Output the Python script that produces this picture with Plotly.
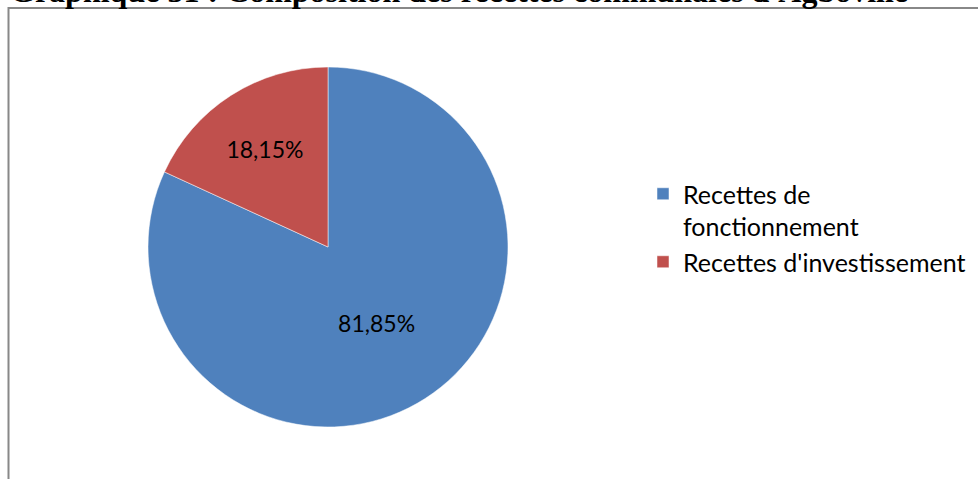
import plotly.graph_objects as go

categories = ["Recettes de fonctionnement", "Recettes d'investissement"]
legend_labels = ["Recettes de<br>fonctionnement", "Recettes d'investissement"]
values = [81.85, 18.15]
colors = ["#4F81BD", "#C0504D"]
title = "Graphique 31 : Composition des recettes communales d'Agboville"

W, H = 978, 479

fig = go.Figure(go.Pie(
    labels=legend_labels,
    values=values,
    sort=False,
    direction="clockwise",
    rotation=0,
    marker=dict(colors=colors, line=dict(color="white", width=0.5)),
    texttemplate="%{percent:.2%}",
    textposition="inside",
    insidetextorientation="horizontal",
    textfont=dict(family="Lato, Open Sans, sans-serif", size=23, color="black"),
    hoverinfo="label+percent",
    domain=dict(x=[148 / W, 508 / W], y=[1 - 427 / H, 1 - 67 / H]),
))

fig.update_layout(
    width=W, height=H,
    margin=dict(l=0, r=0, t=0, b=0),
    paper_bgcolor="white",
    separators=", ",
    showlegend=True,
    legend=dict(
        x=643 / W, y=1 - 171 / H, xanchor="left", yanchor="top",
        font=dict(family="Lato, Open Sans, sans-serif", size=25, color="black"),
        itemwidth=30,
        valign="top",
        bgcolor="rgba(0,0,0,0)",
    ),
    shapes=[dict(
        type="rect", xref="paper", yref="paper",
        x0=8.5 / W, x1=1.02, y0=-0.05, y1=1 - 8 / H,
        line=dict(color="#888888", width=2), fillcolor="rgba(0,0,0,0)", layer="below",
    )],
    annotations=[dict(
        text="<b>" + title + "</b>", xref="paper", yref="paper",
        x=459 / W, y=1 + 9 / H, xanchor="center", yanchor="middle",
        showarrow=False,
        font=dict(family="Liberation Serif, Times New Roman, serif", size=32, color="black"),
    )],
)

fig.write_html("out.html", config={"displayModeBar": False},
               post_script="document.body.style.margin='0';")
